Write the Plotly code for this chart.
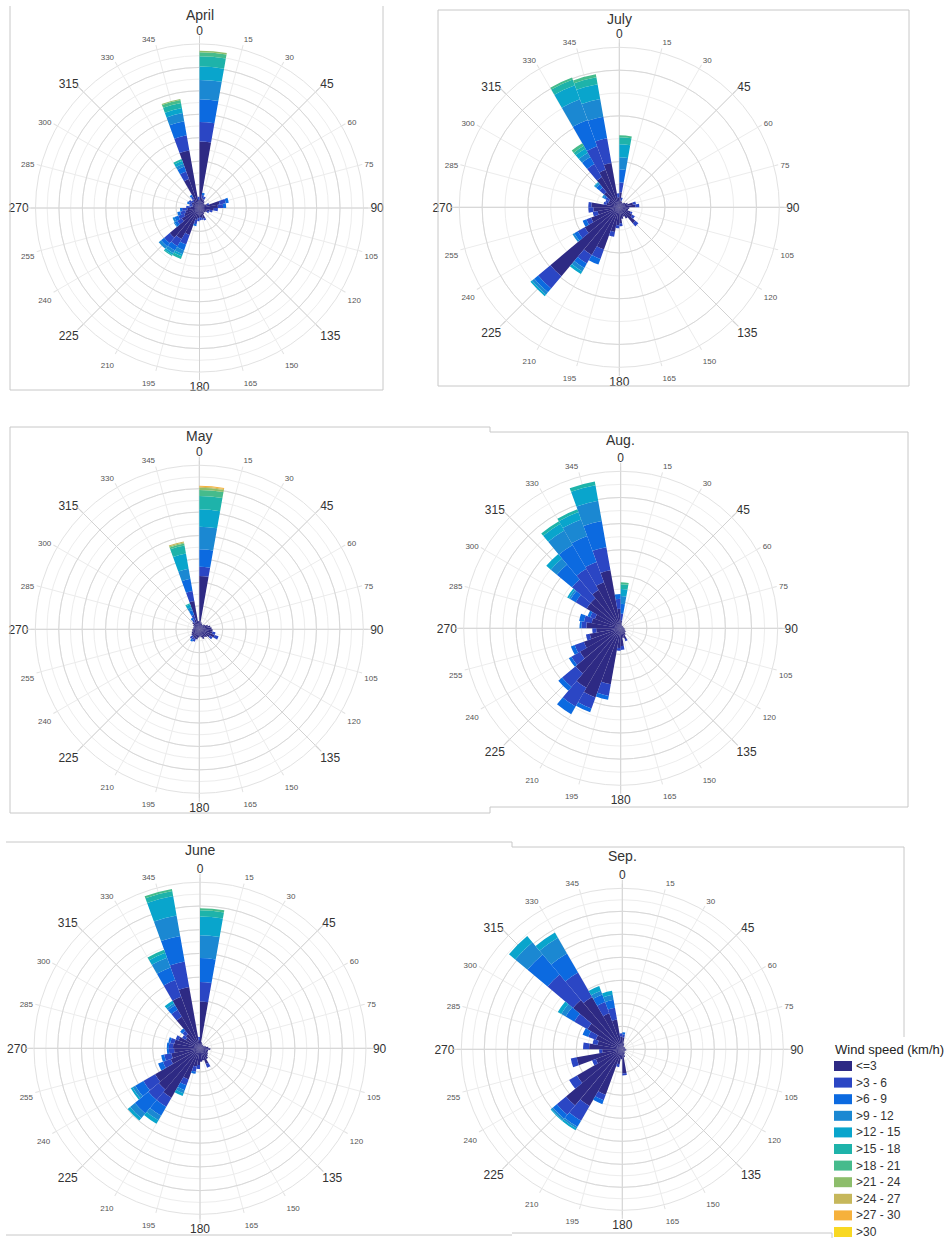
import plotly.graph_objects as go

W, H = 949, 1238
RMAX = 16

SPEED_CLASSES = ["<=3", ">3 - 6", ">6 - 9", ">9 - 12", ">12 - 15", ">15 - 18",
                 ">18 - 21", ">21 - 24", ">24 - 27", ">27 - 30", ">30"]
SPEED_COLORS = ["#2e2a84", "#2b46c4", "#0c6ae0", "#1b88d2", "#09a5cc", "#1eb3aa",
                "#46bb8c", "#8dbd6b", "#c6b75b", "#f6b13c", "#f8d823"]

DIRECTIONS = [5, 15, 25, 35, 45, 55, 65, 75, 85, 95, 105, 115, 125, 135, 145, 155, 165, 175,
              185, 195, 205, 215, 225, 235, 245, 255, 265, 275, 285, 295, 305, 315, 325, 335, 345, 355]
ANGLE_TICKS = [0, 15, 30, 45, 60, 75, 90, 105, 120, 135, 150, 165,
               180, 195, 210, 225, 240, 255, 270, 285, 300, 315, 330, 345]
MAJOR_ANGLES = [0, 45, 90, 135, 180, 225, 270, 315]

# frequency per direction sector, split by speed class (segment lengths, same order as SPEED_CLASSES)
APRIL = {
    5: [6.5, 1.9, 2.2, 1.9, 1.3, 1.0, 0.4, 0.15], 15: [1.0, 0.3, 0.2], 25: [0.9, 0.3], 35: [0.8],
    45: [0.6], 55: [0.6], 65: [0.8, 0.2], 75: [2.0, 0.6, 0.3], 85: [1.8, 0.5, 0.3], 95: [1.4, 0.4],
    105: [1.0, 0.3], 115: [0.8, 0.2], 125: [0.7], 135: [0.6], 145: [0.7], 155: [1.1, 0.2],
    165: [1.0, 0.2], 175: [0.9, 0.3], 185: [1.0, 0.3], 195: [1.2, 0.4, 0.2],
    205: [2.8, 1.0, 0.6, 0.4, 0.2, 0.3], 215: [3.5, 0.8, 0.5, 0.3, 0.2, 0.1],
    225: [3.8, 0.7, 0.4, 0.3], 235: [2.0, 0.5, 0.3, 0.1], 245: [1.6, 0.6, 0.4, 0.2],
    255: [1.4, 0.5, 0.3], 265: [1.2, 0.5, 0.2], 275: [0.9, 0.4], 285: [0.7, 0.3],
    295: [0.8, 0.3, 0.2], 305: [0.9, 0.3], 315: [0.8, 0.2], 325: [1.0, 0.3, 0.2],
    335: [3.0, 0.8, 0.5, 0.3, 0.3, 0.2], 345: [5.7, 1.5, 1.4, 0.8, 0.5, 0.5, 0.3, 0.1],
    355: [0.8, 0.3],
}
JULY = {
    5: [1.5, 1.0, 1.3, 1.2, 1.3, 0.7, 0.2], 15: [0.7, 0.3], 25: [0.6], 35: [0.5], 45: [0.6],
    55: [0.7], 65: [0.9], 75: [1.4, 0.3], 85: [1.6, 0.4], 95: [1.0], 105: [0.9], 115: [1.2, 0.2],
    125: [1.5, 0.3], 135: [2.1, 0.4], 145: [1.3], 155: [1.0], 165: [1.2], 175: [1.6, 0.3],
    185: [1.8, 0.3], 195: [2.5, 0.5], 205: [4.5, 1.0, 0.6], 215: [5.5, 1.0, 0.5, 0.4, 0.3],
    225: [9.0, 1.6, 0.5, 0.3, 0.2], 235: [4.0, 0.8, 0.4, 0.2], 245: [3.0, 0.5, 0.4],
    255: [2.2, 0.5], 265: [2.6, 0.5], 275: [2.8, 0.3], 285: [1.3, 0.3], 295: [1.2, 0.3],
    305: [1.2, 0.4, 0.2, 0.2], 315: [2.0, 0.6, 0.4, 0.2, 0.1],
    325: [3.5, 1.5, 0.8, 0.5, 0.5, 0.3, 0.3], 335: [4.0, 2.5, 2.8, 2.2, 1.5, 0.6, 0.2],
    345: [4.5, 2.5, 2.2, 1.8, 1.5, 0.7, 0.3], 355: [1.0, 0.4],
}
MAY = {
    5: [5.2, 0.9, 1.7, 2.2, 1.7, 1.3, 0.6, 0.2, 0.1, 0.1], 15: [0.7], 25: [0.6], 35: [0.5],
    45: [0.6], 55: [0.7], 65: [0.9], 75: [1.1], 85: [1.2], 95: [1.3], 105: [1.3, 0.3],
    115: [1.6, 0.4], 125: [1.2, 0.3], 135: [1.0], 145: [0.9], 155: [1.0], 165: [0.8],
    175: [0.7], 185: [0.8], 195: [1.0], 205: [1.0, 0.3], 215: [1.0, 0.2, 0.2], 225: [0.9, 0.3],
    235: [0.9], 245: [0.8], 255: [0.7], 265: [0.7], 275: [0.6], 285: [0.6], 295: [0.6],
    305: [0.7], 315: [0.9], 325: [0.8, 0.3, 0.2], 335: [1.0, 0.5, 0.5, 0.3, 0.3, 0.1],
    345: [2.8, 1.0, 1.2, 1.0, 1.5, 0.8, 0.2, 0.1, 0.1], 355: [0.8],
}
AUGUST = {
    5: [0.8, 0.7, 1.0, 0.8, 0.7, 0.5, 0.2], 15: [0.4], 25: [0.3], 35: [0.3], 45: [0.3],
    55: [0.3], 65: [0.3], 75: [0.3], 85: [0.3], 95: [0.4], 105: [0.4], 115: [0.5], 125: [0.6],
    135: [0.6], 145: [0.8], 155: [1.2, 0.2], 165: [1.0], 175: [1.8, 0.4], 185: [2.0, 0.3],
    195: [5.8, 1.2, 0.4], 205: [7.5, 1.2, 0.4], 215: [7.0, 2.2, 0.9], 225: [6.0, 1.8, 0.5],
    235: [4.8, 1.0, 0.3], 245: [4.0, 1.0, 0.4], 255: [3.2, 0.4], 265: [2.5, 0.4],
    275: [3.5, 0.5, 0.2], 285: [3.0, 0.8, 0.5], 295: [2.8, 0.5, 0.3],
    305: [4.0, 1.3, 0.6, 0.2, 0.2], 315: [4.0, 2.5, 2.0, 0.8, 0.6],
    325: [4.5, 2.5, 2.8, 1.7, 0.8, 0.3], 335: [5.0, 2.2, 2.8, 1.8, 0.8, 0.3],
    345: [6.0, 2.4, 2.7, 2.1, 1.6, 0.4], 355: [2.0, 1.0, 0.5],
}
JUNE = {
    5: [4.5, 1.9, 2.3, 2.2, 1.8, 0.6, 0.2], 15: [0.6], 25: [0.5], 35: [0.4], 45: [0.4],
    55: [0.4], 65: [0.5], 75: [0.6], 85: [0.8], 95: [1.0], 105: [0.8], 115: [0.8], 125: [0.9],
    135: [1.0], 145: [1.2], 155: [1.6, 0.4], 165: [1.2], 175: [1.3], 185: [1.6, 0.4],
    195: [1.8, 0.5, 0.2], 205: [3.2, 0.6, 0.5, 0.3, 0.3], 215: [5.5, 1.0, 1.0, 0.5, 0.4],
    225: [5.2, 1.3, 1.7, 0.6, 0.3], 235: [5.0, 1.3, 0.9, 0.3, 0.2], 245: [3.0, 0.8, 0.5],
    255: [2.8, 0.7, 0.3], 265: [2.5, 0.5, 0.2], 275: [2.6, 0.4, 0.2], 285: [2.5, 0.4, 0.2],
    295: [2.2, 0.3], 305: [1.6, 0.4], 315: [1.8, 0.4, 0.3], 325: [3.5, 0.8, 0.5, 0.2, 0.3],
    335: [5.3, 1.7, 1.3, 1.0, 0.5, 0.3], 345: [6.0, 2.5, 2.5, 2.0, 1.9, 0.5, 0.2],
    355: [0.8, 0.3],
}
SEPTEMBER = {
    5: [1.2, 0.3, 0.2], 15: [0.6], 25: [0.3], 35: [0.3], 45: [0.3], 55: [0.3], 65: [0.3],
    75: [0.3], 85: [0.3], 95: [0.4], 105: [0.4], 115: [0.3], 125: [0.3], 135: [0.3],
    145: [0.4], 155: [0.5], 165: [0.8], 175: [2.4, 0.2], 185: [1.0], 195: [1.5, 0.3],
    205: [4.8, 0.6, 0.4], 215: [6.5, 1.7, 0.7, 0.2, 0.2], 225: [7.3, 1.2, 0.5, 0.2, 0.1],
    235: [5.2, 0.9], 245: [2.8, 0.4], 255: [4.6, 0.6], 265: [2.0, 0.3], 275: [3.3, 0.6],
    285: [2.5, 0.5], 295: [2.8, 0.8, 0.6], 305: [4.0, 1.5, 1.0, 0.5, 0.4],
    315: [6.4, 3.3, 2.6, 1.6, 0.8], 325: [6.0, 2.8, 2.2, 1.8, 0.6],
    335: [3.8, 1.2, 0.8, 0.4, 0.5], 345: [3.0, 1.2, 0.8, 0.5, 0.4], 355: [1.3, 0.3],
}

MONTHS = ["April", "July", "May", "Aug.", "June", "Sep."]
MONTH_DATA = [APRIL, JULY, MAY, AUGUST, JUNE, SEPTEMBER]

# ---------------- layout (pixel geometry of each panel) ----------------
PANELS = [
    dict(cx=199.5, cy=208.0, R=164, rings=14, ty=15),
    dict(cx=619.3, cy=207.3, R=160, rings=7, ty=19),
    dict(cx=199.3, cy=629.3, R=164, rings=14, ty=436),
    dict(cx=620.7, cy=628.3, R=157, rings=12, ty=440),
    dict(cx=200.0, cy=1048.3, R=166, rings=14, ty=850),
    dict(cx=622.3, cy=1049.3, R=161, rings=14, ty=856),
]

BORDERS = [
    (10, 6, 10, 390), (10, 390, 383, 390), (383, 6, 383, 390),
    (438, 10, 909, 10), (909, 10, 909, 386), (909, 386, 438, 386), (438, 386, 438, 10),
    (10, 427, 490, 427), (10, 427, 10, 813), (10, 813, 490, 813),
    (490, 427, 490, 432), (490, 432, 908, 432), (908, 432, 908, 807), (908, 807, 490, 807),
    (490, 807, 490, 813),
    (6, 842, 512, 842), (512, 842, 512, 847), (6, 1235, 512, 1235),
    (512, 847, 904, 847), (904, 847, 904, 1037), (512, 1233, 832, 1233), (832, 1233, 832, 1238),
]

FONT = "Arial, Liberation Sans, sans-serif"


def series(month, k):
    out = []
    for d in DIRECTIONS:
        vals = month.get(d, [])
        out.append(vals[k] if k < len(vals) else 0)
    return out


def tick_text(a):
    if a in MAJOR_ANGLES:
        return str(a)
    return "<span style='font-size:8px;fill:#555'>%d</span>" % a


TICKTEXT = [tick_text(a) for a in ANGLE_TICKS]

fig = go.Figure()
layout = {}

for i, (p, name, data) in enumerate(zip(PANELS, MONTHS, MONTH_DATA)):
    base_id = "polar" if i == 0 else "polar%d" % (i + 1)
    top_id = "polar%d" % (i + 7)
    cx, cy, R = p["cx"], p["cy"], p["R"]
    dom = dict(x=[(cx - R) / W, (cx + R) / W], y=[1 - (cy + R) / H, 1 - (cy - R) / H])
    n = p["rings"]
    minor_rings = [RMAX * k / n for k in range(1, n + 1)]
    major_rings = [RMAX * k / n for k in range(2, n + 1, 2)]

    layout[base_id] = dict(
        domain=dom, bgcolor="white",
        angularaxis=dict(rotation=90, direction="clockwise", tickmode="array",
                         tickvals=ANGLE_TICKS, ticktext=TICKTEXT,
                         tickfont=dict(size=12, color="#333333", family=FONT),
                         showgrid=True, gridcolor="#ececec", gridwidth=1,
                         showline=True, linecolor="#e2e2e2", linewidth=1,
                         ticks="outside", ticklen=4, tickcolor="#e2e2e2",
                         layer="below traces"),
        radialaxis=dict(range=[0, RMAX], tickmode="array", tickvals=minor_rings,
                        showticklabels=False, ticks="", showline=False,
                        showgrid=True, gridcolor="#ededed", gridwidth=1),
    )
    layout[top_id] = dict(
        domain=dom, bgcolor="rgba(0,0,0,0)", barmode="stack", bargap=0,
        angularaxis=dict(rotation=90, direction="clockwise", tickmode="array",
                         tickvals=MAJOR_ANGLES, showticklabels=False,
                         showgrid=True, gridcolor="#d2d2d2", gridwidth=1,
                         showline=False, ticks="outside", ticklen=8, tickcolor="#d2d2d2",
                         layer="below traces"),
        radialaxis=dict(range=[0, RMAX], tickmode="array", tickvals=major_rings,
                        showticklabels=False, ticks="", showline=False,
                        showgrid=True, gridcolor="#d8d8d8", gridwidth=1),
    )

    # invisible anchor trace for the grid subplot
    fig.add_trace(go.Scatterpolar(r=[0], theta=[0], mode="markers", marker=dict(opacity=0),
                                  hoverinfo="skip", showlegend=False, subplot=base_id))
    for k, (cls, col) in enumerate(zip(SPEED_CLASSES, SPEED_COLORS)):
        fig.add_trace(go.Barpolar(r=series(data, k), theta=DIRECTIONS, width=10,
                                  name=cls, marker=dict(color=col, line=dict(width=0)),
                                  showlegend=False, subplot=top_id))

annotations = []
for p, name in zip(PANELS, MONTHS):
    annotations.append(dict(x=p["cx"] / W, y=1 - p["ty"] / H, xref="paper", yref="paper",
                            text=name, showarrow=False, xanchor="center", yanchor="middle",
                            font=dict(size=14, color="#333333", family=FONT)))

shapes = []
for x0, y0, x1, y1 in BORDERS:
    shapes.append(dict(type="line", xref="paper", yref="paper",
                       x0=x0 / W, y0=1 - y0 / H, x1=x1 / W, y1=1 - y1 / H,
                       line=dict(color="#c8c8c8", width=1)))

# legend (drawn manually to match the compact spacing)
LEG_X, LEG_TITLE_Y, LEG_Y0, LEG_DY = 833, 1049, 1066, 16.6
annotations.append(dict(x=LEG_X / W, y=1 - LEG_TITLE_Y / H, xref="paper", yref="paper",
                        text="Wind speed (km/h)", showarrow=False, xanchor="left",
                        yanchor="middle", font=dict(size=13, color="#222222", family=FONT)))
for k, (cls, col) in enumerate(zip(SPEED_CLASSES, SPEED_COLORS)):
    yc = LEG_Y0 + k * LEG_DY
    shapes.append(dict(type="rect", xref="paper", yref="paper",
                       x0=(LEG_X + 1) / W, x1=(LEG_X + 19) / W,
                       y0=1 - (yc + 5) / H, y1=1 - (yc - 5) / H,
                       fillcolor=col, line=dict(width=0)))
    annotations.append(dict(x=(LEG_X + 21) / W, y=1 - yc / H, xref="paper", yref="paper",
                            text=cls.replace("<", "&lt;").replace(">", "&gt;"),
                            showarrow=False, xanchor="left", yanchor="middle",
                            font=dict(size=12, color="#333333", family=FONT)))

fig.update_layout(
    width=W, height=H, margin=dict(l=0, r=0, t=0, b=0),
    paper_bgcolor="white", plot_bgcolor="white", showlegend=False,
    annotations=annotations, shapes=shapes, **layout,
)

fig.write_html("out.html")
